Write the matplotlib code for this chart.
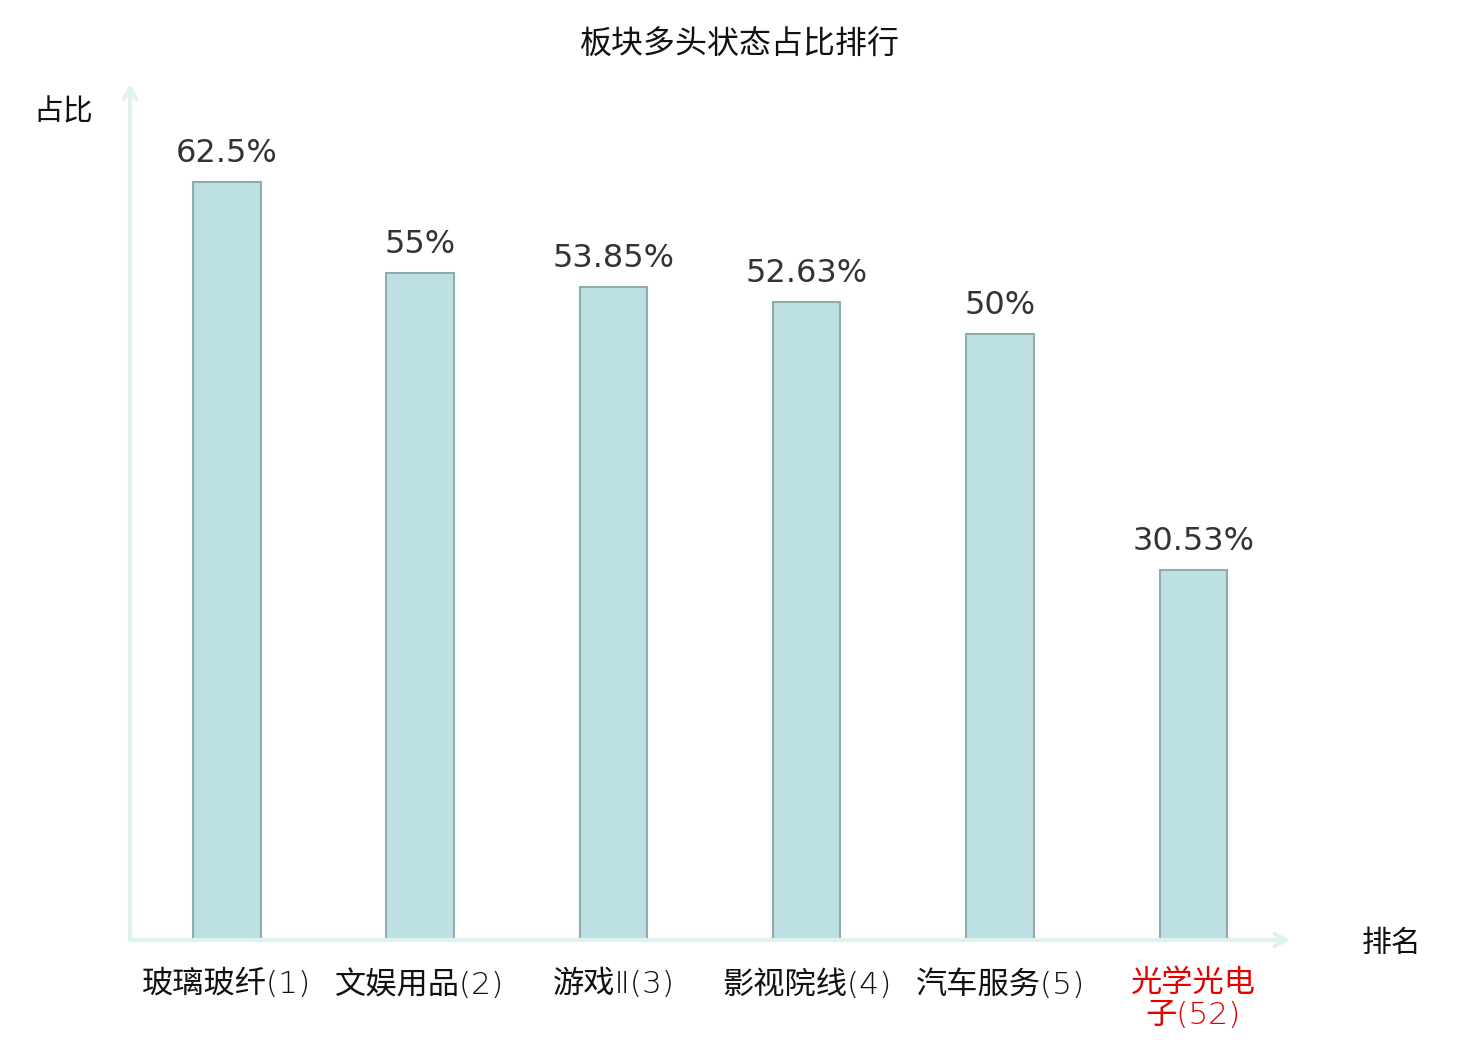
import matplotlib
matplotlib.use("Agg")
import matplotlib.pyplot as plt

categories = ["玻璃玻纤(1)", "文娱用品(2)", "游戏Ⅱ(3)", "影视院线(4)", "汽车服务(5)", "光学光电\n子(52)"]
values = [62.5, 55, 53.85, 52.63, 50, 30.53]
value_labels = ["62.5%", "55%", "53.85%", "52.63%", "50%", "30.53%"]
label_colors = ["#111111"] * 5 + ["#e60000"]

plt.rcParams['font.family'] = ['Noto Sans CJK SC', 'DejaVu Sans']

W, H = 1480, 1040
fig = plt.figure(figsize=(W / 100, H / 100), dpi=100)
fig.patch.set_facecolor("white")
left, right, bottom, top = 130 / W, 1290 / W, (H - 940) / H, (H - 88) / H
ax = fig.add_axes([left, bottom, right - left, top - bottom])
ax.set_xlim(-0.5, 5.5)
ax.set_ylim(0, (940 - 88) / (758 / 62.5))
for s in ax.spines.values():
    s.set_visible(False)
ax.set_xticks([])
ax.set_yticks([])

x = list(range(len(categories)))
ax.bar(x, values, width=0.35, color="#bce0e3", edgecolor="#8fabab", linewidth=1.5, zorder=3)

for xi, v, lab in zip(x, values, value_labels):
    ax.annotate(lab, (xi, v), xytext=(0, 9), textcoords="offset points",
                ha="center", va="bottom", fontsize=23, color="#333333",
                family=['DejaVu Sans'])

axis_color = "#dff2ef"
ax.annotate("", xy=(0, 1.005), xytext=(0, 0), xycoords="axes fraction",
            arrowprops=dict(arrowstyle="->,head_length=0.8,head_width=0.45", color=axis_color, lw=3,
                            shrinkA=0, shrinkB=0), annotation_clip=False)
ax.annotate("", xy=(1.0, 0), xytext=(0, 0), xycoords="axes fraction",
            arrowprops=dict(arrowstyle="->,head_length=0.8,head_width=0.45", color=axis_color, lw=3,
                            shrinkA=0, shrinkB=0), annotation_clip=False)

for xi, cat, c in zip(x, categories, label_colors):
    ax.text(xi, -2.4, cat, ha="center", va="top", fontsize=22.5, color=c,
            linespacing=1.12, transform=ax.transData, clip_on=False,
            family=['DejaVu Sans', 'Noto Sans CJK SC'], fontweight=200)

fig.text(740 / W, 1 - 45 / H, "板块多头状态占比排行", ha="center", va="center", fontsize=23, color="#111111")
fig.text(63 / W, 1 - 112 / H, "占比", ha="center", va="center", fontsize=21.5, color="#111111")
fig.text(1392 / W, 1 - 943 / H, "排名", ha="center", va="center", fontsize=21.5, color="#111111")

fig.savefig("out.png", dpi=100, facecolor="white")
